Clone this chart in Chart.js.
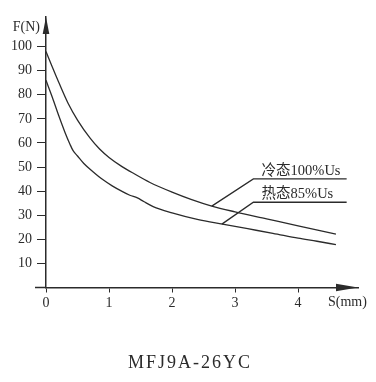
<!DOCTYPE html>
<html>
<head>
<meta charset="utf-8">
<style>
  html, body { margin: 0; padding: 0; background: #fff; }
  #wrap { width: 376px; height: 382px; position: relative; }
</style>
<script src="https://cdn.jsdelivr.net/npm/chart.js@4/dist/chart.umd.min.js"></script>
</head>
<body>
<div id="wrap"><canvas id="forceChart" width="376" height="382"></canvas></div>
<script>
// stroke S (mm) and force F (N)
const coldS = [0, 0.1, 0.2, 0.35, 0.5, 0.7, 0.85, 1.0, 1.2, 1.4, 1.65, 2.0, 2.3, 2.63, 3.0, 3.5, 4.0, 4.6];
const coldF = [98, 91.5, 85.3, 76.5, 69.5, 62, 57.5, 54, 50.3, 47.2, 43.6, 39.6, 36.6, 33.8, 31.4, 28.5, 25.6, 22.2];
const hotS = [0, 0.1, 0.2, 0.3, 0.38, 0.43, 0.5, 0.6, 0.75, 0.9, 1.05, 1.2, 1.33, 1.45, 1.55, 1.7, 2.0, 2.4, 2.8, 3.2, 3.6, 4.0, 4.3, 4.6];
const hotF = [86, 79, 71.5, 64.5, 59.5, 56.8, 54.6, 51.5, 48, 44.8, 42.2, 40, 38.3, 37.2, 35.7, 33.6, 31, 28.3, 26.3, 24.4, 22.5, 20.5, 19.2, 17.8];

// leader lines from the curve labels
const coldLeaderS = [2.63, 3.29, 4.77];
const coldLeaderF = [33.8, 45.1, 45.1];
const hotLeaderS = [2.79, 3.29, 4.77];
const hotLeaderF = [26.3, 35.4, 35.4];

const seriesNames = ['冷态100%Us', '热态85%Us'];
const xTicks = [0, 1, 2, 3, 4];
const yTicks = [10, 20, 30, 40, 50, 60, 70, 80, 90, 100];
const xTitle = 'S(mm)';
const yTitle = 'F(N)';
const modelName = 'MFJ9A-26YC';

const ink = '#2b2b2b';
const serif = "'Liberation Serif', 'DejaVu Serif', 'Noto Sans CJK SC', serif";

function toPoints(xs, ys) {
    return xs.map((x, i) => ({ x: x, y: ys[i] }));
}

const annotate = {
    id: 'annotate',
    afterDraw(chart) {
        const c = chart.ctx;
        const xs = chart.scales.x;
        const ys = chart.scales.y;
        const x0 = xs.getPixelForValue(0);
        const y0 = ys.getPixelForValue(0);
        const area = chart.chartArea;

        c.save();
        c.strokeStyle = ink;
        c.fillStyle = ink;
        c.lineWidth = 1.5;

        // x axis stub left of the origin
        c.beginPath();
        c.moveTo(35, y0);
        c.lineTo(x0, y0);
        c.stroke();

        // arrow heads
        c.beginPath();
        c.moveTo(area.right, y0);
        c.lineTo(area.right - 22, y0 - 3.8);
        c.lineTo(area.right - 22, y0 + 3.8);
        c.closePath();
        c.fill();

        c.beginPath();
        c.moveTo(x0, area.top);
        c.lineTo(x0 - 3.3, area.top + 17);
        c.lineTo(x0 + 3.3, area.top + 17);
        c.closePath();
        c.fill();

        // axis names
        c.font = '14px ' + serif;
        c.textBaseline = 'middle';
        c.textAlign = 'right';
        c.fillText(yTitle, 40, 27);
        c.textAlign = 'left';
        c.fillText(xTitle, 328, 302);

        // curve labels above the leader lines
        c.font = '14.5px ' + serif;
        c.fillText(seriesNames[0], xs.getPixelForValue(3.42), ys.getPixelForValue(coldLeaderF[2]) - 7.5);
        c.fillText(seriesNames[1], xs.getPixelForValue(3.42), ys.getPixelForValue(hotLeaderF[2]) - 8.3);

        // model name underneath
        c.font = '18px ' + serif;
        c.letterSpacing = '2px';
        c.textAlign = 'center';
        c.fillText(modelName, 190, 363);
        c.restore();
    }
};

const ctx = document.getElementById('forceChart').getContext('2d');
const forceChart = new Chart(ctx, {
    type: 'line',
    data: {
        datasets: [
            { label: seriesNames[0], data: toPoints(coldS, coldF), borderColor: ink, borderWidth: 1.3, cubicInterpolationMode: 'monotone' },
            { label: seriesNames[1], data: toPoints(hotS, hotF), borderColor: ink, borderWidth: 1.3, cubicInterpolationMode: 'monotone' },
            { label: 'leader1', data: toPoints(coldLeaderS, coldLeaderF), borderColor: ink, borderWidth: 1.3, tension: 0 },
            { label: 'leader2', data: toPoints(hotLeaderS, hotLeaderF), borderColor: ink, borderWidth: 1.3, tension: 0 }
        ]
    },
    options: {
        responsive: false,
        animation: false,
        devicePixelRatio: 1,
        elements: { point: { radius: 0 } },
        layout: { padding: { top: 17, right: 18, bottom: 74.5, left: 0 } },
        plugins: {
            legend: { display: false },
            tooltip: { enabled: false }
        },
        scales: {
            x: {
                type: 'linear',
                min: 0,
                max: 4.95,
                afterBuildTicks: s => { s.ticks = xTicks.map(v => ({ value: v })); },
                afterFit: s => { s.height = 20; },
                grid: { drawOnChartArea: false, drawTicks: true, tickLength: 5, tickColor: ink, tickWidth: 1 },
                border: { display: true, color: ink, width: 1.5 },
                ticks: { color: ink, padding: 2, maxRotation: 0, font: { family: serif, size: 14 } }
            },
            y: {
                type: 'linear',
                min: 0,
                max: 112.3,
                afterBuildTicks: s => { s.ticks = yTicks.map(v => ({ value: v })); },
                afterFit: s => { s.width = 46; },
                grid: { drawOnChartArea: false, drawTicks: true, tickLength: 9, tickColor: ink, tickWidth: 1 },
                border: { display: true, color: ink, width: 1.5 },
                ticks: { color: ink, padding: 5, font: { family: serif, size: 14 } }
            }
        }
    },
    plugins: [annotate]
});
</script>
</body>
</html>
